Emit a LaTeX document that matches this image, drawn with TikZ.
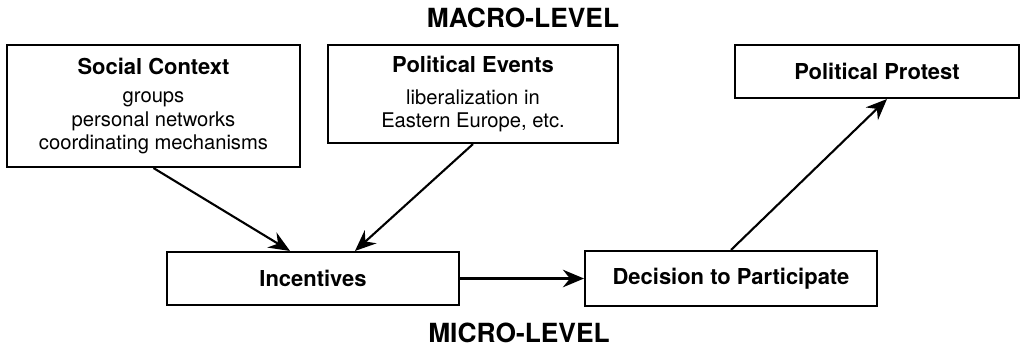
\documentclass[tikz,border=0pt]{standalone}
\usepackage{fontspec}
\setmainfont{TeX Gyre Heros}
\usetikzlibrary{arrows.meta}

\tikzset{
  levelbox/.style={draw, line width=1.2pt, align=center, inner sep=0pt,
    font=\fontsize{11.5}{13.4}\selectfont},
  levelhead/.style={font=\fontsize{15}{18}\selectfont\bfseries},
  flow/.style={-{Stealth[length=12pt,width=10pt,inset=4pt]}, line width=1.2pt}
}

\begin{document}
\begin{tikzpicture}[x=0.02cm, y=-0.02cm]
        \useasboundingbox (0, 0) rectangle (1021, 346);
        \node[levelhead] (macro) at (523, 18) {MACRO-LEVEL};
        \node[levelhead] (micro) at (519, 333) {MICRO-LEVEL};
        \node[levelbox, minimum width=5.86cm, minimum height=2.44cm] (social) at (153.5, 106)
          {{\fontsize{12.5}{13}\selectfont\bfseries Social Context}\\[3pt] groups\\ personal networks\\ coordinating mechanisms};
        \node[levelbox, minimum width=5.8cm, minimum height=1.96cm] (events) at (473, 94)
          {{\fontsize{12.5}{13}\selectfont\bfseries Political Events}\\[5pt] liberalization in\\ Eastern Europe, etc.};
        \node[levelbox, minimum width=5.68cm, minimum height=1.06cm] (protest) at (877, 71.5)
          {\fontsize{12.5}{13}\selectfont\bfseries Political Protest};
        \node[levelbox, minimum width=5.84cm, minimum height=1.06cm] (incent) at (313, 278.5)
          {\fontsize{12.5}{13}\selectfont\bfseries Incentives};
        \node[levelbox, minimum width=5.84cm, minimum height=1.1cm] (decide) at (731, 278.5)
          {\fontsize{12.5}{13}\selectfont\bfseries Decision to Participate};
        \draw[flow] (social.south) -- ([xshift=-0.46cm]incent.north);
        \draw[flow] (events.south) -- ([xshift=0.84cm]incent.north);
        \draw[flow] (incent.east) -- (decide.west);
        \draw[flow] (decide.north) -- ([xshift=0.2cm]protest.south);
      \end{tikzpicture}
\end{document}
